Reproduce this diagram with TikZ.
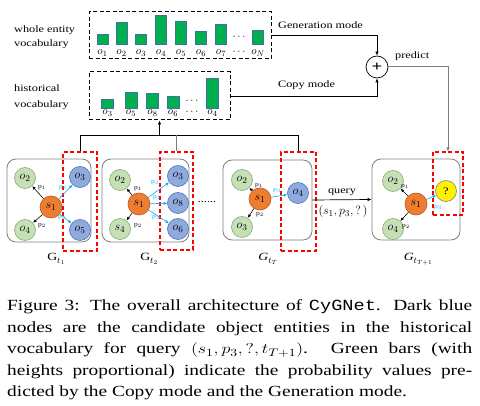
\documentclass[tikz,border=0pt]{standalone}
\usepackage{fontspec}
\setmainfont{Liberation Serif}[FakeStretch=1.25]
\setmonofont{Liberation Mono}[FakeStretch=1.2]
\usetikzlibrary{arrows.meta}
\definecolor{barG}{HTML}{00B050}
\definecolor{barE}{HTML}{41719C}
\definecolor{lgF}{HTML}{C5E0B4}
\definecolor{lgE}{HTML}{8AAA78}
\definecolor{blF}{HTML}{8FAADC}
\definecolor{blE}{HTML}{4F72B8}
\definecolor{orF}{HTML}{ED7D31}
\definecolor{orE}{HTML}{B85A1E}
\definecolor{cyA}{HTML}{00B0F0}
\definecolor{boxE}{HTML}{7F7F7F}
\newcommand{\hs}[1]{\scalebox{1.25}[1]{#1}}
\newcommand{\gsub}[1]{\raisebox{-3pt}{\fontsize{9}{9}\selectfont$#1$}}
\tikzset{
  bar/.style={draw=barE, fill=barG, line width=0.6pt, inner sep=0pt, outer sep=0pt, minimum width=11pt, anchor=south},
  vlab/.style={font=\fontsize{11}{11}\selectfont, inner sep=0pt},
  vbox/.style={draw, dashed, line width=1pt, inner sep=0pt, dash pattern=on 4pt off 2.5pt},
  redbox/.style={draw=red, dashed, line width=1.1pt, inner sep=0pt, dash pattern=on 4pt off 2.5pt},
  gbox/.style={draw=boxE, line width=0.8pt, rounded corners=9pt, inner sep=0pt},
  gnode/.style={circle, draw=lgE, fill=lgF, minimum size=21pt, inner sep=0pt, line width=0.6pt, font=\fontsize{13}{13}\selectfont},
  bnode/.style={gnode, draw=blE, fill=blF},
  snode/.style={gnode, draw=orE, fill=orF, minimum size=22pt},
  qnode/.style={gnode, draw=boxE, fill=yellow, font=\fontsize{10}{10}\selectfont},
  kar/.style={-{Latex[length=3.5pt,width=3pt]}, line width=0.6pt, black},
  car/.style={-{Latex[length=3.5pt,width=3pt]}, line width=0.6pt, cyA},
  plab/.style={font=\fontsize{6}{6}\selectfont, inner sep=0pt},
  cplab/.style={plab, text=cyA},
  txt/.style={font=\fontsize{9.8}{9.8}\selectfont, inner sep=0pt, anchor=base west},
  glab/.style={font=\fontsize{9.8}{9.8}\selectfont, inner sep=0pt},
  mlab/.style={font=\fontsize{12.5}{12.5}\selectfont, inner sep=0pt},
  Glab/.style={font=\fontsize{11}{11}\selectfont, inner sep=0pt, anchor=base},
  mar/.style={-{Latex[length=4pt,width=3.5pt]}, line width=0.7pt},
}
\begin{document}
\begin{tikzpicture}[x=1pt,y=-1pt]
\useasboundingbox (0,0) rectangle (480,406);
% left labels
\node[txt] (w1) at (14,32.5) {whole entity};
\node[txt] (w2) at (14,47) {vocabulary};
\node[txt] (h1) at (14,92) {historical};
\node[txt] (h2) at (14,108) {vocabulary};
% vocab boxes
\node[vbox, minimum width=182pt, minimum height=47pt] (top) at (180,35.5) {};
\node[vbox, minimum width=141pt, minimum height=48pt] (hist) at (159.5,96) {};
% top bars
\node[bar, minimum height=10pt] (tb1) at (102.5,44) {};
\node[bar, minimum height=22pt] (tb2) at (121.5,44) {};
\node[bar, minimum height=10pt] (tb3) at (141,44) {};
\node[bar, minimum height=29pt] (tb4) at (161,44) {};
\node[bar, minimum height=23pt] (tb5) at (181,44) {};
\node[bar, minimum height=13pt] (tb6) at (201,44) {};
\node[bar, minimum height=20pt] (tb7) at (221,44) {};
\node[bar, minimum height=14pt] (tbN) at (257.5,44) {};
\node[vlab] (td1) at (239,37) {$\cdots$};
\node[vlab] (tl1) at (102.5,53) {$o_1$};
\node[vlab] (tl2) at (121.5,53) {$o_2$};
\node[vlab] (tl3) at (141,53) {$o_3$};
\node[vlab] (tl4) at (161,53) {$o_4$};
\node[vlab] (tl5) at (181,53) {$o_5$};
\node[vlab] (tl6) at (201,53) {$o_6$};
\node[vlab] (tl7) at (221,53) {$o_7$};
\node[vlab] (td2) at (239,52) {$\cdots$};
\node[vlab] (tlN) at (258,53) {$o_N$};
% hist bars
\node[bar, minimum width=12pt, minimum height=9pt] (hb3) at (107.5,108) {};
\node[bar, minimum width=12pt, minimum height=16pt] (hb5) at (131,108) {};
\node[bar, minimum width=12pt, minimum height=15pt] (hb8) at (152.5,108) {};
\node[bar, minimum width=12pt, minimum height=12pt] (hb6) at (173,108) {};
\node[bar, minimum width=12pt, minimum height=30pt] (hb4) at (212.5,108) {};
\node[vlab] (hd1) at (192,101) {$\cdots$};
\node[vlab] (hl3) at (107.5,113) {$o_3$};
\node[vlab] (hl5) at (131,113) {$o_5$};
\node[vlab] (hl8) at (152.5,113) {$o_8$};
\node[vlab] (hl6) at (173,113) {$o_6$};
\node[vlab] (hd2) at (192,112) {$\cdots$};
\node[vlab] (hl4) at (212.5,113) {$o_4$};
% plus
\node[circle, draw, line width=0.7pt, minimum size=22pt, inner sep=0pt, font=\fontsize{15}{15}\selectfont\bfseries] (plus) at (377,67) {+};
\draw[mar] (top.east) -| (plus.north);
\draw[mar] (hist.east) -| (plus.south);
\node[txt] (gm) at (278,29) {Generation mode};
\node[txt] (cm) at (278,88) {Copy mode};
\node[txt] (pr) at (395,59) {predict};
% graph boxes
\node[gbox, minimum width=84pt, minimum height=83pt] (g1) at (49,200.5) {};
\node[gbox, minimum width=87pt, minimum height=83pt] (g2) at (145.5,200.5) {};
\node[gbox, minimum width=89pt, minimum height=80pt] (gT) at (267.5,200) {};
\node[gbox, minimum width=88pt, minimum height=81pt] (gT1) at (416,199.5) {};
% red boxes
\node[redbox, minimum width=34pt, minimum height=99pt] (r1) at (80,201.5) {};
\node[redbox, minimum width=33pt, minimum height=98pt] (r2) at (176.5,201) {};
\node[redbox, minimum width=35pt, minimum height=99pt] (rT) at (298.5,201.5) {};
\node[redbox, minimum width=30pt, minimum height=63pt] (rT1) at (448,183.5) {};
% tree lines
\coordinate (j) at (159.5,135.5);
\draw[mar] (j) -- (hist.south);
\draw[line width=0.7pt] (r1.north) -- (r1.north |- j) -- (rT.north |- j) -- (rT.north);
\draw[line width=1pt, boxE] (r2.north) -- (r2.north |- j);
\draw[mar, boxE, line width=1pt] (plus.east) -| (rT1.north);
% G1
\node[gnode] (a2) at (25,178) {$o_2$};
\node[snode] (as) at (51,207) {$s_1$};
\node[gnode] (a4) at (25,230) {$o_4$};
\node[bnode] (a3) at (80,177) {$o_3$};
\node[bnode] (a5) at (80,230) {$o_5$};
\draw[kar] (as) -- (a2);
\draw[kar] (as) -- (a4);
\draw[car] (as) -- (a3);
\draw[car] (as) -- (a5);
\node[plab] (ap1) at (42,188) {p$_1$};
\node[plab] (ap2) at (42,226) {p$_2$};
\node[cplab] (ap3) at (63,188) {p$_3$};
\node[cplab] (ap4) at (62,218) {p$_3$};
% G2
\node[gnode] (b2) at (120,180) {$o_2$};
\node[snode] (bs) at (139,204) {$s_1$};
\node[gnode] (b4) at (120,229) {$s_4$};
\node[bnode] (b3) at (178,176) {$o_3$};
\node[bnode] (b8) at (178,203) {$o_8$};
\node[bnode] (b6) at (178,229) {$o_6$};
\draw[kar] (bs) -- (b2);
\draw[kar] (bs) -- (b4);
\draw[car] (bs) -- (b3);
\draw[car] (bs) -- (b8);
\draw[car] (bs) -- (b6);
\node[plab] (bp1) at (138,189) {p$_1$};
\node[plab] (bp2) at (138,226) {p$_2$};
\node[cplab] (bp3) at (155,183) {p$_3$};
\node[cplab] (bp4) at (157,198) {p$_1$};
\node[cplab] (bp5) at (156,218) {p$_3$};
\node[glab] (dots) at (207,202) {......};
% GT
\node[gnode] (c2) at (242,180) {$o_2$};
\node[snode] (cs) at (260,199) {$s_1$};
\node[gnode] (c3) at (242,227) {$o_3$};
\node[bnode] (c4) at (298,193) {$o_4$};
\draw[kar] (cs) -- (c2);
\draw[kar] (cs) -- (c3);
\draw[car] (cs) -- (c4);
\node[plab] (cp1) at (259,186) {p$_1$};
\node[plab] (cp2) at (260,215) {p$_2$};
\node[cplab] (cp3) at (277,191) {p$_3$};
% GT1
\node[gnode] (d2) at (393,181) {$o_2$};
\node[snode] (ds) at (416,204) {$s_1$};
\node[gnode] (d4) at (393,229) {$o_4$};
\node[qnode] (dq) at (446,191) {?};
\draw[kar] (ds) -- (d2);
\draw[kar] (ds) -- (d4);
\draw[car] (ds) -- (dq);
\node[plab] (dp1) at (405,187) {p$_1$};
\node[plab] (dp2) at (406,227) {p$_2$};
\node[cplab] (dp3) at (438,208) {p$_3$};
% query
\draw[mar] (gT.east) -- (gT1.west);
\node[glab] (qy) at (342,192) {query};
\node[mlab] (qt) at (343,212) {$(s_1,p_3,?\,)$};
% graph labels
\node[Glab] (l1) at (56,261) {G\gsub{t_1}};
\node[Glab] (l2) at (149,261) {G\gsub{t_2}};
\node[Glab] (lT) at (268,261) {\textit{G}\gsub{t_T}};
\node[Glab] (lT1) at (418,261) {\textit{G}\gsub{t_{T+1}}};
% caption
\node[anchor=base west, inner sep=0pt] (cap) at (7,311) {\begin{minipage}[t]{465pt}\fontsize{15.5}{21.5}\selectfont\noindent
Figure 3: The overall architecture of \texttt{CyGNet}. Dark blue\linebreak
nodes are the candidate object entities in the historical\linebreak
vocabulary for query \hs{$(s_1,p_3,?,t_{T+1})$}. Green bars (with\linebreak
heights proportional) indicate the probability values pre-\linebreak
dicted by the Copy mode and the Generation mode.\end{minipage}};
\end{tikzpicture}
\end{document}
